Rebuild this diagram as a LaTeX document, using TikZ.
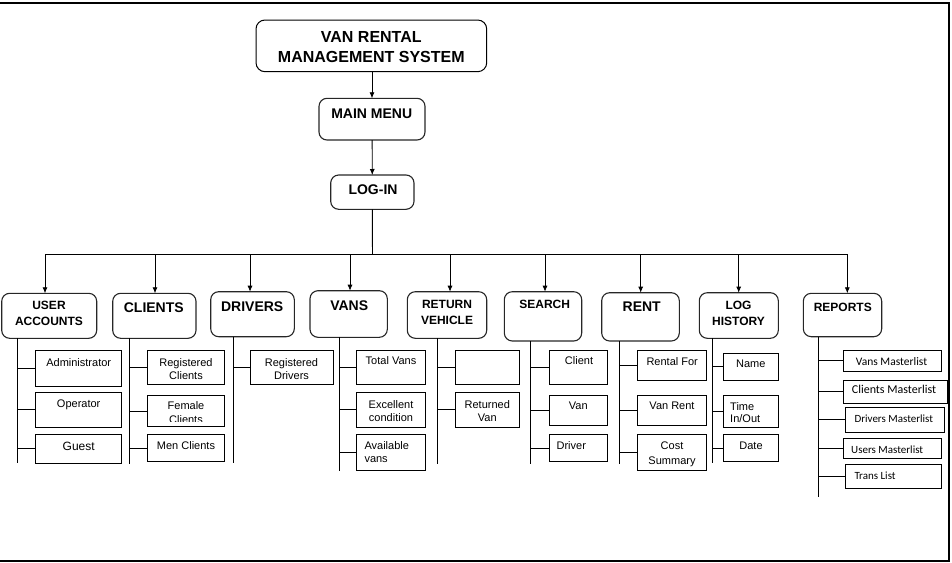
\documentclass[tikz,border=0pt]{standalone}
\usepackage{fontspec}
\setmainfont{Liberation Sans}
\newfontfamily\calfont{Carlito}
\usetikzlibrary{arrows.meta}
\newcommand\mybx[6]{\node[#6, minimum width={#4-#2}, minimum height={#5-#3}] (#1) at ({(#2+#4)/2},{(#3+#5)/2}) {};}
\begin{document}
\begin{tikzpicture}[x=1pt,y=-1pt,
  conn/.style={line width=0.8pt, draw=black},
  arr/.style={conn, -{Latex[length=6pt,width=5pt]}},
  ttl/.style={draw=black, line width=1pt, rounded corners=9pt, inner sep=0, outer sep=0},
  cat/.style={draw=black!85, line width=1.1pt, rounded corners=8pt, inner sep=0, outer sep=0},
  sub/.style={draw=black, line width=0.9pt, inner sep=0, outer sep=0},
  bigtxt/.style={font=\fontsize{16}{20}\selectfont\bfseries, align=center, inner sep=0},
  catl/.style={font=\fontsize{14}{17}\selectfont\bfseries, inner sep=0, text height=10pt, text depth=0pt},
  cats/.style={font=\fontsize{12}{16}\selectfont\bfseries, align=center, inner sep=0},
  catsl/.style={cats, text height=8.6pt, text depth=0pt},
  stm/.style={font=\fontsize{11}{13.5}\selectfont, align=center, inner sep=0},
  st/.style={stm, text height=7.9pt, text depth=0pt},
  rt/.style={anchor=west, inner sep=0, text height=7.5pt, text depth=0pt},
]
\useasboundingbox (0,0) rectangle (952,562);
% frame
\draw[line width=2pt] (0,2.5) -- (948.5,2.5) -- (948.5,561) -- (0,561);

% top
\mybx{title}{256}{20}{486.7}{71.7}{ttl}
\node[bigtxt] (t-title) at (371.3,46.7) {VAN RENTAL\\MANAGEMENT SYSTEM};
\mybx{mm}{319}{98.3}{425}{140}{cat}
\node[catl] (t-mm) at (371.7,113.3) {MAIN MENU};
\mybx{login}{330.7}{175}{414}{209.3}{cat}
\node[catl] (t-login) at (373,189) {LOG-IN};

% categories
\mybx{ua}{1.7}{293.3}{96.7}{338.3}{cat}
\node[cats] (t-ua) at (49,313.7) {USER\\ACCOUNTS};
\mybx{cl}{112.7}{293.3}{196}{338.3}{cat}
\node[catl] (t-cl) at (153.8,307) {CLIENTS};
\mybx{dr}{210.7}{291.7}{294.3}{336.7}{cat}
\node[catl] (t-dr) at (252.2,306) {DRIVERS};
\mybx{va}{310}{290.7}{387.3}{337.3}{cat}
\node[catl] (t-va) at (349.2,305.7) {VANS};
\mybx{rv}{407.3}{291.7}{486.7}{338.3}{cat}
\node[cats] (t-rv) at (447,312.5) {RETURN\\VEHICLE};
\mybx{se}{504.3}{291.7}{581.7}{341}{cat}
\node[catsl] (t-se) at (544.7,304.3) {SEARCH};
\mybx{re}{601.7}{292.7}{679.3}{341}{cat}
\node[catl] (t-re) at (641.7,306.7) {RENT};
\mybx{lh}{699.3}{292.7}{778.3}{338.3}{cat}
\node[cats] (t-lh) at (738.5,313.7) {LOG\\HISTORY};
\mybx{rp}{803.3}{293.3}{881.7}{336.7}{cat}
\node[catsl] (t-rp) at (842.8,306.7) {REPORTS};

% sub boxes: user accounts
\mybx{adm}{35.7}{350.3}{121.7}{386.3}{sub}
\node[st] (t-adm) at (78.7,362.3) {Administrator};
\mybx{opr}{35.7}{392.3}{121.7}{427}{sub}
\node[st] (t-opr) at (78.7,403.7) {Operator};
\mybx{gst}{35.7}{434.3}{121.7}{463.3}{sub}
\node[st, font=\fontsize{12}{14}\selectfont, text height=8.6pt] (t-gst) at (78.7,445.7) {Guest};
% clients
\mybx{rcl}{147.7}{350.3}{224.3}{384.3}{sub}
\node[stm] (t-rcl) at (186,369) {Registered\\Clients};
\mybx{fcl}{147.7}{395.7}{224.3}{426.7}{sub}
\begin{scope}
\clip (147.7,396) rectangle (224.3,421.6);
\node[stm] (t-fcl) at (186,412.8) {Female\\Clients};
\end{scope}
\mybx{mcl}{147.7}{434.3}{224.3}{461.7}{sub}
\node[st] (t-mcl) at (186,445.7) {Men Clients};
% drivers
\mybx{rdr}{250.7}{350.3}{333}{384.3}{sub}
\node[stm] (t-rdr) at (291.5,369) {Registered\\Drivers};
% vans
\mybx{tvn}{356.7}{350.3}{425.7}{384.3}{sub}
\node[st] (t-tvn) at (391,361) {Total Vans};
\mybx{exc}{356.7}{392.3}{425.7}{427}{sub}
\node[stm] (t-exc) at (391,411.2) {Excellent\\condition};
\mybx{avl}{356.7}{434.3}{425.7}{470.7}{sub}
\node[stm, align=left, anchor=west] (t-avl) at (364.3,452) {Available\\vans};
% return vehicle
\mybx{emp}{455.3}{350.3}{519.3}{384.3}{sub}
\mybx{rtv}{455.3}{392.3}{519.3}{427}{sub}
\node[stm] (t-rtv) at (487.3,411.2) {Returned\\Van};
% search
\mybx{cli}{549.3}{350.3}{607.3}{384.3}{sub}
\node[st] (t-cli) at (579,361) {Client};
\mybx{van}{549.3}{395.7}{607.3}{425.7}{sub}
\node[st] (t-van) at (578.3,406) {Van};
\mybx{drv}{549.3}{434.3}{607.3}{461.7}{sub}
\node[st] (t-drv) at (571.3,445.7) {Driver};
% rent
\mybx{rfo}{637.7}{350.3}{706.7}{380}{sub}
\node[st] (t-rfo) at (672.2,361.7) {Rental For};
\mybx{vrt}{637.7}{395.7}{706.7}{425.7}{sub}
\node[st] (t-vrt) at (672,406) {Van Rent};
\mybx{cst}{637.7}{434.3}{706.7}{470.7}{sub}
\node[stm, font=\fontsize{11}{15}\selectfont] (t-cst) at (672,454.3) {Cost\\Summary};
% log history
\mybx{nam}{723.3}{353.7}{778.3}{380}{sub}
\node[st] (t-nam) at (750.8,364) {Name};
\mybx{tio}{723.3}{395.7}{778.3}{427}{sub}
\node[stm, align=left, anchor=west, font=\fontsize{11}{11.5}\selectfont] (t-tio) at (730,412.6) {Time\\In/Out};
\mybx{dat}{723.3}{434.3}{778.3}{461.7}{sub}
\node[st] (t-dat) at (751,445.7) {Date};
% reports
\mybx{vml}{843.3}{350.3}{941.7}{371}{sub}
\node[rt, font=\calfont\fontsize{11.5}{13}\selectfont] (t-vml) at (855.7,361.7) {Vans Masterlist};
\mybx{cml}{843.3}{380}{947.3}{403.3}{sub}
\node[rt, font=\calfont\fontsize{12}{13}\selectfont] (t-cml) at (851.7,390) {Clients Masterlist};
\mybx{dml}{845.7}{407}{944}{432.3}{sub}
\node[rt, font=\calfont\fontsize{11}{13}\selectfont] (t-dml) at (854.3,418.3) {Drivers Masterlist};
\mybx{uml}{843.3}{438.3}{941.7}{458.3}{sub}
\node[rt, font=\calfont\fontsize{11}{13}\selectfont] (t-uml) at (851,449.3) {Users Masterlist};
\mybx{tml}{845.7}{464.3}{941.7}{488.3}{sub}
\node[rt, font=\calfont\fontsize{11}{13}\selectfont] (t-tml) at (854.3,475.3) {Trans List};

% top connectors
\draw[arr] (title.south -| mm.north) -- (mm.north);
\draw[arr] (mm) -- (login);
\coordinate (bus) at (372.4,254.3);
\draw[conn] (login) -- (bus);
\coordinate (in-ua) at (45,254.3);
\coordinate (in-cl) at (155,254.3);
\coordinate (in-dr) at (250,254.3);
\coordinate (in-va) at (350,254.3);
\coordinate (in-rv) at (450,254.3);
\coordinate (in-se) at (545,254.3);
\coordinate (in-re) at (640.7,254.3);
\coordinate (in-lh) at (738.7,254.3);
\coordinate (in-rp) at (847.3,254.3);
\draw[conn] (in-ua) -- (in-rp);
\foreach \k in {ua,cl,dr,va,rv,se,re,lh,rp}
  \draw[arr] (in-\k) -- (in-\k |- \k.north);

% stems
\coordinate (end-ua) at (17.3,462.7);
\coordinate (end-cl) at (129.3,464);
\coordinate (end-dr) at (233.3,462.7);
\coordinate (end-va) at (339,470.7);
\coordinate (end-rv) at (437.3,464.3);
\coordinate (end-se) at (530.7,464.3);
\coordinate (end-re) at (619,464);
\coordinate (end-lh) at (712.7,462.7);
\coordinate (end-rp) at (818.3,497);
\foreach \k in {ua,cl,dr,va,rv,se,re,lh,rp}
  \draw[conn] (end-\k |- \k.south) -- (end-\k);

% branches
\foreach \k/\b in {ua/adm,ua/opr,ua/gst,cl/rcl,cl/fcl,cl/mcl,dr/rdr,va/tvn,va/exc,va/avl,rv/emp,rv/rtv,se/cli,se/van,se/drv,re/rfo,re/vrt,re/cst,lh/nam,lh/tio,lh/dat,rp/vml,rp/cml,rp/dml,rp/uml,rp/tml}
  \draw[conn] (end-\k |- \b.west) -- (\b.west);
\end{tikzpicture}
\end{document}
